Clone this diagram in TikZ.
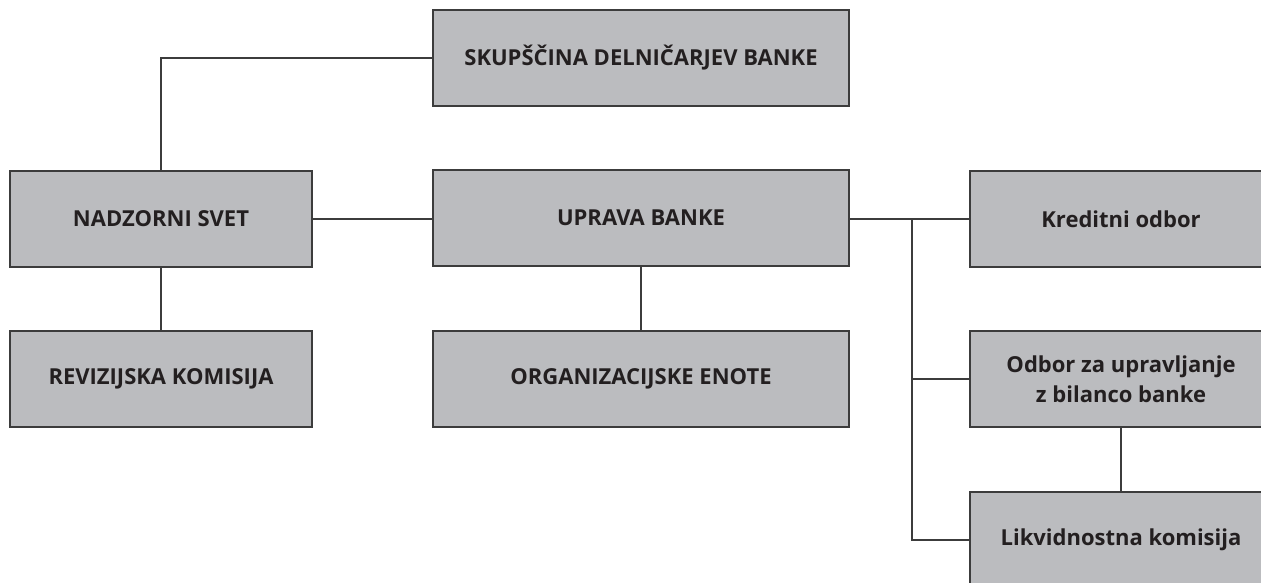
\documentclass[tikz,border=0pt]{standalone}
\usepackage{fontspec}
\setmainfont{Open Sans}
\definecolor{boxfill}{HTML}{BBBCBF}
\definecolor{boxline}{HTML}{3C3C3C}
\definecolor{txt}{HTML}{231F20}
\begin{document}
\begin{tikzpicture}[x=1pt,y=-1pt,
  orgbox/.style={draw=boxline,line width=1.5pt,fill=boxfill,text=txt,
    font=\fontsize{22}{30}\selectfont\bfseries,align=center,inner sep=0pt},
  link/.style={draw=boxline,line width=1.5pt}]
\useasboundingbox (0,0) rectangle (1261,583);
\begin{scope}
\clip (0,0) rectangle (1261,583);
\node[orgbox,minimum width=416pt,minimum height=96pt] (skup) at (641,58) {SKUPŠČINA DELNIČARJEV BANKE};
\node[orgbox,minimum width=302pt,minimum height=96pt] (nadz) at (161,219) {NADZORNI SVET};
\node[orgbox,minimum width=302pt,minimum height=96pt] (rev) at (161,379) {REVIZIJSKA KOMISIJA};
\node[orgbox,minimum width=416pt,minimum height=96pt] (upr) at (641,218) {UPRAVA BANKE};
\node[orgbox,minimum width=416pt,minimum height=96pt] (org) at (641,379) {ORGANIZACIJSKE ENOTE};
\node[orgbox,minimum width=302pt,minimum height=96pt] (kred) at (1121,219) {Kreditni odbor};
\node[orgbox,minimum width=302pt,minimum height=96pt] (bil) at (1121,379) {Odbor za upravljanje\\z bilanco banke};
\node[orgbox,minimum width=302pt,minimum height=96pt] (lik) at (1121,540) {Likvidnostna komisija};
\end{scope}
\coordinate (j) at (912,219);
\draw[link] (nadz.north) |- (skup.west);
\draw[link] (nadz.east) -- (upr.west |- nadz.east);
\draw[link] (nadz.south) -- (rev.north);
\draw[link] (upr.south) -- (org.north);
\draw[link] (upr.east |- kred.west) -- (kred.west);
\draw[link] (j) |- (lik.west);
\draw[link] (j |- bil.west) -- (bil.west);
\draw[link] (bil.south) -- (lik.north);
\end{tikzpicture}
\end{document}
